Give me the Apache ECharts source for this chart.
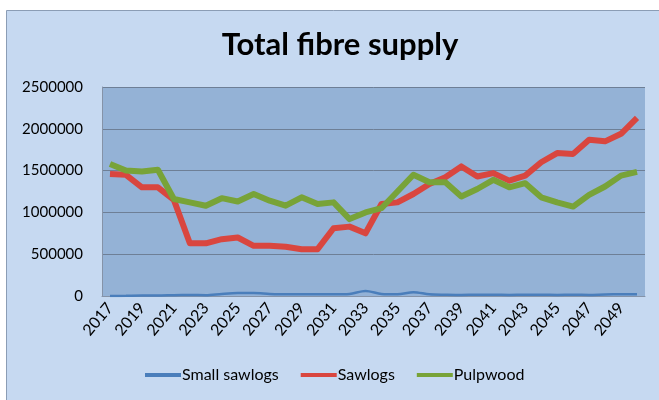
<!DOCTYPE html>
<html>
<head>
<meta charset="utf-8">
<script src="https://cdn.jsdelivr.net/npm/echarts@6/dist/echarts.min.js"></script>
<style>
  html, body { margin: 0; padding: 0; background: #fff; }
  #chart { width: 659px; height: 400px; }
</style>
</head>
<body>
<div id="chart"></div>
<script>
// years on the x axis
const years = [];
for (let y = 2017; y <= 2050; y++) years.push(String(y));

// values
const smallSawlogs = [0, 2000, 5000, 5000, 10000, 12000, 10000, 25000, 35000, 35000,
  25000, 20000, 20000, 20000, 20000, 25000, 60000, 25000, 20000, 45000,
  20000, 15000, 12000, 15000, 15000, 12000, 15000, 15000, 12000, 15000,
  12000, 18000, 20000, 20000];
const sawlogs = [1460000, 1450000, 1300000, 1300000, 1150000, 630000, 630000, 680000, 700000, 600000,
  600000, 590000, 560000, 560000, 810000, 830000, 750000, 1100000, 1120000, 1220000,
  1340000, 1420000, 1550000, 1430000, 1470000, 1380000, 1440000, 1600000, 1710000, 1700000,
  1870000, 1850000, 1940000, 2130000];
const pulpwood = [1580000, 1500000, 1490000, 1510000, 1160000, 1120000, 1080000, 1170000, 1130000, 1220000,
  1140000, 1080000, 1180000, 1100000, 1120000, 920000, 1000000, 1050000, 1250000, 1450000,
  1360000, 1360000, 1190000, 1280000, 1390000, 1300000, 1350000, 1180000, 1120000, 1070000,
  1210000, 1310000, 1440000, 1485000];

const chart = echarts.init(document.getElementById('chart'));
const font = 'Lato';

chart.setOption({
  animation: false,
  backgroundColor: '#ffffff',
  graphic: [
    {
      type: 'rect',
      z: -10,
      shape: { x: 6.5, y: 10.5, width: 670, height: 400 },
      style: { fill: '#c6d9f1', stroke: '#8b9db5', lineWidth: 1 }
    },
    {
      // chart title (centred on the original chart area, not the crop)
      type: 'text',
      x: 340,
      y: 29,
      style: {
        text: 'Total fibre supply',
        textAlign: 'center',
        fontFamily: font,
        fontWeight: 'bold',
        fontSize: 31,
        fill: '#000'
      }
    }
  ],
  grid: {
    left: 102, right: 14, top: 87, bottom: 104,
    show: true,
    backgroundColor: '#94b2d6',
    borderWidth: 0
  },
  legend: {
    bottom: 12,
    left: 140,
    itemWidth: 36,
    itemHeight: 4,
    itemGap: 22,
    icon: 'rect',
    textStyle: { fontFamily: font, fontSize: 16, color: '#000', padding: [0, 0, 0, -4] },
    data: ['Small sawlogs', 'Sawlogs', 'Pulpwood']
  },
  xAxis: {
    type: 'category',
    data: years,
    boundaryGap: true,
    axisLine: { lineStyle: { color: '#8593a8', width: 1 } },
    axisTick: { show: false },
    axisLabel: {
      interval: 1,
      rotate: 50,
      margin: 9,
      fontFamily: font,
      fontSize: 16,
      color: '#000'
    }
  },
  yAxis: {
    type: 'value',
    min: 0,
    max: 2500000,
    interval: 500000,
    axisLine: { show: true, lineStyle: { color: '#8593a8', width: 1 } },
    axisTick: { show: false },
    splitLine: { lineStyle: { color: '#6e7f96', width: 1 } },
    axisLabel: {
      fontFamily: font,
      fontSize: 15,
      color: '#000',
      margin: 19,
      formatter: v => String(v)
    }
  },
  series: [
    {
      name: 'Small sawlogs',
      type: 'line',
      data: smallSawlogs,
      smooth: 0.3,
      showSymbol: false,
      symbol: 'none',
      itemStyle: { color: '#4a7ebb' },
      lineStyle: { color: '#4a7ebb', width: 2.5 }
    },
    {
      name: 'Sawlogs',
      type: 'line',
      data: sawlogs,
      showSymbol: false,
      symbol: 'none',
      itemStyle: { color: '#d9463f' },
      lineStyle: { color: '#d9463f', width: 6, join: 'round' }
    },
    {
      name: 'Pulpwood',
      type: 'line',
      data: pulpwood,
      showSymbol: false,
      symbol: 'none',
      itemStyle: { color: '#78a338' },
      lineStyle: { color: '#78a338', width: 6, join: 'round' }
    }
  ]
});
</script>
</body>
</html>
